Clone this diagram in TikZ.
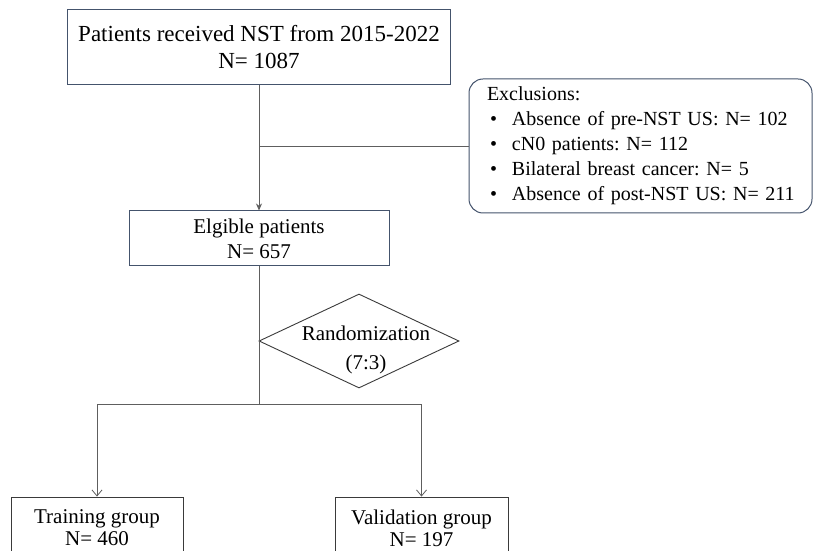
\documentclass[tikz,border=0pt]{standalone}
\usepackage{fontspec}
\setmainfont{Liberation Serif}
\usepackage{tikz}
\usetikzlibrary{arrows.meta,shapes.geometric}

\definecolor{slate}{HTML}{44536C}
\definecolor{darkline}{HTML}{3A3A3A}
\definecolor{connline}{HTML}{5E5E5E}

\newcommand{\exitem}[1]{\mbox{\hspace*{13bp}\makebox[22bp][l]{\textbullet}#1}}
\frenchspacing

\begin{document}
\begin{tikzpicture}[x=1bp,y=-1bp,
    bluebox/.style={draw=slate,line width=1bp,fill=white,align=center,
        font=\fontsize{21bp}{25bp}\selectfont},
    greybox/.style={draw=darkline,line width=0.9bp,fill=white,align=center,
        font=\fontsize{21bp}{22bp}\selectfont},
    conn/.style={draw=connline,line width=0.8bp}]
    \path[use as bounding box,clip] (0,0) rectangle (814,551);
    % boxes
    \node [bluebox,minimum width=382bp,minimum height=75bp,
        font=\fontsize{23bp}{27bp}\selectfont] (nst) at (259,47.5)
        {Patients received NST from 2015-2022\\N= 1087};
    \node [bluebox,rounded corners=14bp,align=left,text width=327bp,inner xsep=8bp,
        minimum width=343bp,minimum height=134bp,
        font=\fontsize{20bp}{25bp}\selectfont] (excl) at (640.5,146)
        {\hspace*{10bp}Exclusions:\\
         \exitem{Absence of pre-NST US: N= 102}\\
         \exitem{cN0 patients: N= 112}\\
         \exitem{Bilateral breast cancer: N= 5}\\
         \exitem{Absence of post-NST US: N= 211}};
    \node [bluebox,minimum width=260bp,minimum height=55bp] (elig) at (259,238.5)
        {Elgible patients\\N= 657};
    % randomization
    \node [diamond,draw=darkline,line width=0.9bp,inner sep=0pt,
        minimum width=200bp,minimum height=94bp] (rand) at (359,341) {};
    \node [align=center,font=\fontsize{21bp}{29bp}\selectfont] (randtxt) at (366,350)
        {Randomization\\(7:3)};
    % groups
    \node [greybox,minimum width=172bp,minimum height=62bp] (train) at (97,528)
        {Training group\\N= 460};
    \node [greybox,minimum width=173bp,minimum height=62bp] (valid) at (421.5,528)
        {Validation group\\N= 197};
    % connectors
    \coordinate (split) at (259,404);
    \draw [conn,-{Stealth[length=7bp,width=6bp]}] (nst.south) -- (elig.north);
    \draw [conn] (excl.west) -- (excl.west -| nst.south);
    \draw [conn] (elig.south) -- (split);
    \draw [conn,-{Straight Barb[length=6bp,width=10bp]}] (split) -| (train.north);
    \draw [conn,-{Straight Barb[length=6bp,width=10bp]}] (split) -| (valid.north);
\end{tikzpicture}
\end{document}
